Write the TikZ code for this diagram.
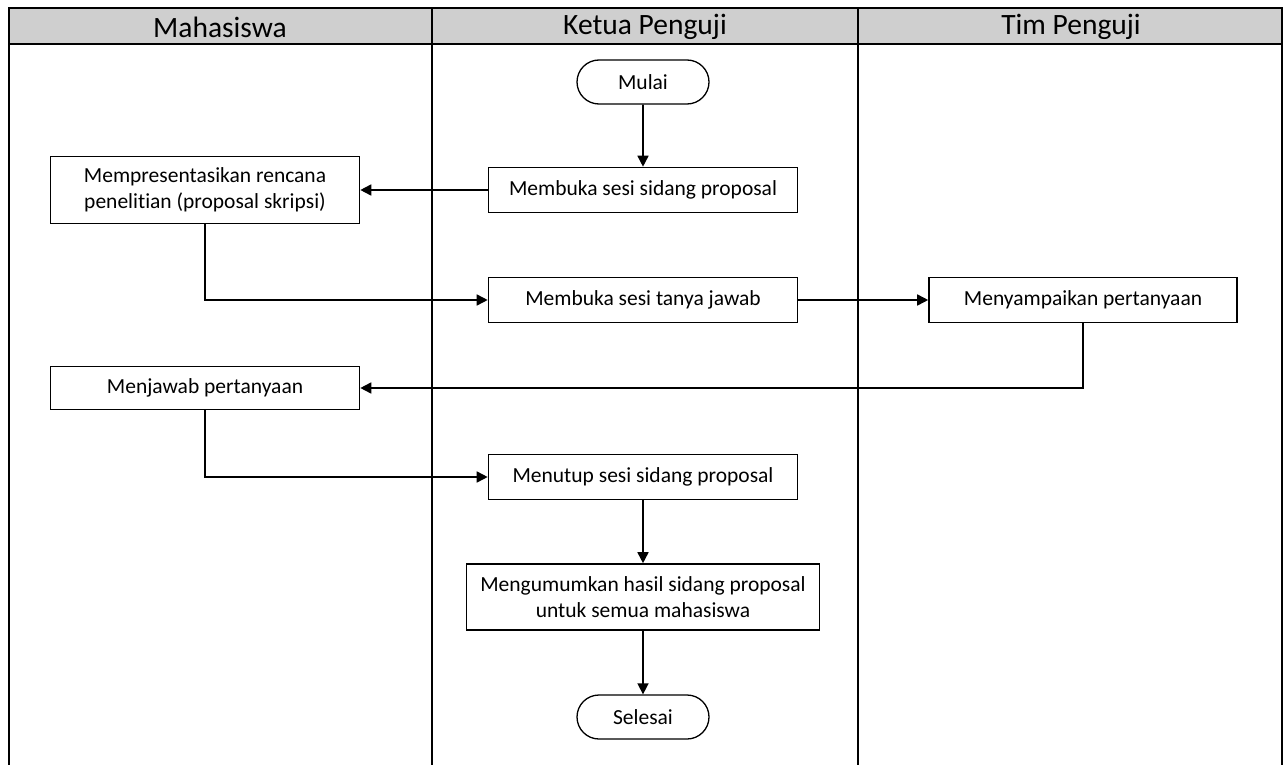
\documentclass[tikz,border=0pt]{standalone}
\usepackage{fontspec}
\setmainfont{Carlito}[Ligatures=NoCommon]
\usetikzlibrary{arrows.meta,shapes.misc}
\begin{document}
\begin{tikzpicture}[x=1pt,y=-1pt,
  box/.style={draw,line width=1.6pt,fill=white,align=center,font=\fontsize{21.5}{26}\selectfont,inner sep=0pt},
  term/.style={draw,line width=1.3pt,rounded rectangle,fill=white,font=\fontsize{21.5}{26}\selectfont,minimum width=132pt,minimum height=44pt,inner sep=0pt},
  flow/.style={line width=1.6pt,-{Triangle[length=11pt,width=11pt]}},
  lane/.style={line width=1.3pt},
  head/.style={font=\fontsize{29.5}{32}\selectfont}]
\useasboundingbox (0,0) rectangle (1285,765);
% header
\fill[gray!38] (9,8) rectangle (1282,44);
\draw[lane] (9,44) -- (1282,44);
\draw[lane] (432,8) -- (432,765);
\draw[lane] (858,8) -- (858,765);
\draw[line width=2pt] (9,765) -- (9,8) -- (1282,8) -- (1282,765);
\node[head] (h1) at (220,27) {Mahasiswa};
\node[head] (h2) at (645,27) {Ketua Penguji};
\node[head] (h3) at (1071,27) {Tim Penguji};
% nodes
\node[term] (mulai) at (643,82) {Mulai};
\node[box,minimum width=309pt,minimum height=45pt] (buka) at (643,190) {Membuka sesi sidang proposal};
\node[box,minimum width=309pt,minimum height=67pt] (pres) at (205,190) {Mempresentasikan rencana\\penelitian (proposal skripsi)};
\node[box,minimum width=309pt,minimum height=45pt] (tanya) at (643,300) {Membuka sesi tanya jawab};
\node[box,minimum width=308pt,minimum height=45pt] (samp) at (1083,300) {Menyampaikan pertanyaan};
\node[box,minimum width=309pt,minimum height=43pt] (jawab) at (205,388) {Menjawab pertanyaan};
\node[box,minimum width=309pt,minimum height=45pt] (tutup) at (643,477) {Menutup sesi sidang proposal};
\node[box,minimum width=353pt,minimum height=66pt] (umum) at (643,597) {Mengumumkan hasil sidang proposal\\untuk semua mahasiswa};
\node[term] (selesai) at (643,717) {Selesai};
% edges
\draw[flow] (mulai) -- (buka);
\draw[flow] (buka) -- (pres);
\draw[flow] (pres.south) |- (tanya.west);
\draw[flow] (tanya) -- (samp);
\draw[flow] (samp.south) |- (jawab.east);
\draw[flow] (jawab.south) |- (tutup.west);
\draw[flow] (tutup) -- (umum);
\draw[flow] (umum) -- (selesai);
\end{tikzpicture}
\end{document}
